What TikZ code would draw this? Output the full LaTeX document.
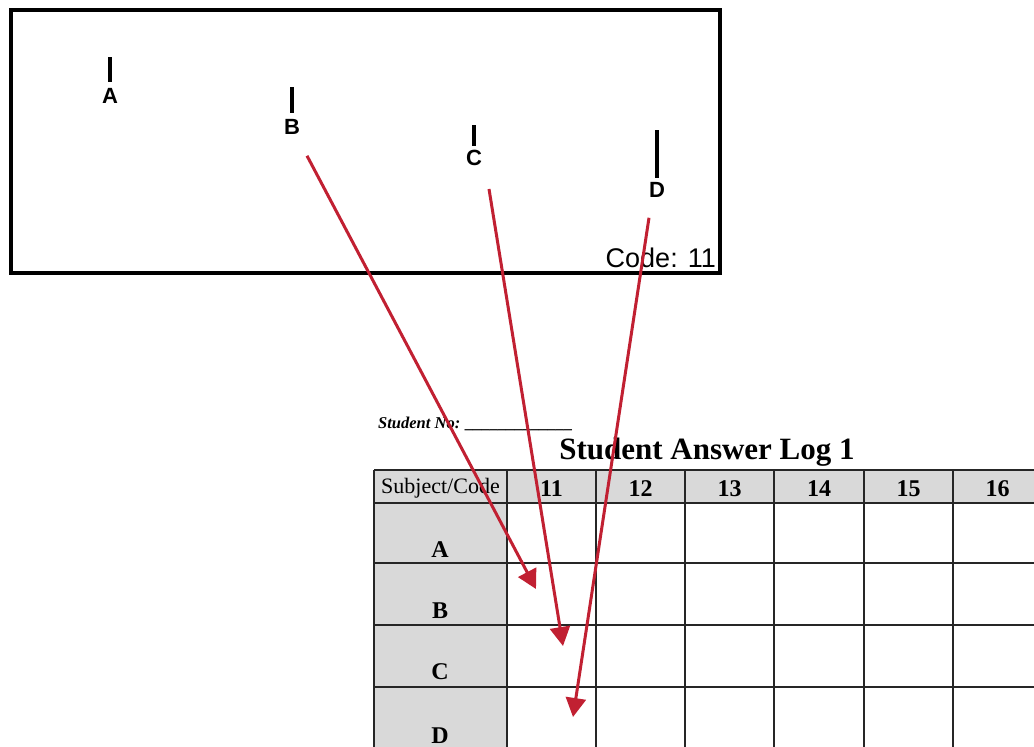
\documentclass[tikz,border=0pt]{standalone}
\usepackage{fontspec}
\setmainfont{Liberation Serif}
\setsansfont{Liberation Sans}
\usetikzlibrary{arrows.meta,positioning}
\definecolor{arrowred}{RGB}{193,32,50}
\definecolor{cellgray}{RGB}{217,217,217}

\begin{document}
\begin{tikzpicture}[
    x=1pt, y=-1pt,
    tick/.style={line width=3.2pt},
    marklabel/.style={font=\sffamily\bfseries\fontsize{22}{22}\selectfont, inner sep=0pt},
    gridline/.style={line width=1.3pt, draw=black!85},
    headcell/.style={font=\bfseries\fontsize{24}{24}\selectfont, inner sep=0pt},
    rowcell/.style={font=\bfseries\fontsize{24}{24}\selectfont, inner sep=0pt},
    arrow/.style={-{Triangle[length=19pt, width=20pt]}, line width=3pt, draw=arrowred}
]
\useasboundingbox[fill=white] (0,0) rectangle (1034,747);
\clip (0,0) rectangle (1034,747);

% picture box
\draw[line width=3.2pt] (11,10) rectangle (720,273);
\node[font=\sffamily\fontsize{27}{27}\selectfont, anchor=base east, inner sep=0pt] (code) at (716,267) {Code: 11};

\node[marklabel] (lblA) at (110,96) {A};
\node[marklabel] (lblB) at (292,127) {B};
\node[marklabel] (lblC) at (474,158) {C};
\node[marklabel] (lblD) at (657,190) {D};
\draw[tick] (110,57) -- (110,82);
\draw[tick] (292,87) -- (292,113);
\draw[tick] (474,125) -- (474,146);
\draw[tick] (657,130) -- (657,178);

% answer log
\node[font=\bfseries\itshape\fontsize{16.5}{16.5}\selectfont, anchor=base west, inner sep=0pt] (stno) at (378,428) {Student No: \_\_\_\_\_\_\_\_\_\_\_\_\_};
\node[font=\bfseries\fontsize{31}{31}\selectfont, anchor=base, inner sep=0pt] (title) at (707,459) {Student Answer Log 1};

\fill[cellgray] (374,470) rectangle (1040,503);
\fill[cellgray] (374,503) rectangle (507,760);
\foreach \y in {470,503,563,625,687}
    \draw[gridline] (374,\y) -- (1040,\y);
\foreach \x in {374,507,596,685,774,864,953}
    \draw[gridline] (\x,470) -- (\x,760);

\node[font=\fontsize{22}{22}\selectfont, inner sep=0pt] (subj) at (440.5,488) {Subject/Code};
\foreach \c/\x in {11/551.5,12/640.5,13/729.5,14/819,15/908.5,16/997.5}
    \node[headcell] (h\c) at (\x,489) {\c};
\foreach \r/\y in {A/550,B/611,C/672,D/736}
    \node[rowcell] (row\r) at (440,\y) {\r};

% arrows
\coordinate (tipB) at (536,589);
\coordinate (tipC) at (563,646);
\coordinate (tipD) at (573,717);
\draw[arrow] ([shift={(15,21)}]lblB.south) -- (tipB);
\draw[arrow] ([shift={(15,23)}]lblC.south) -- (tipC);
\draw[arrow] ([shift={(-8,20)}]lblD.south) -- (tipD);

\end{tikzpicture}
\end{document}
